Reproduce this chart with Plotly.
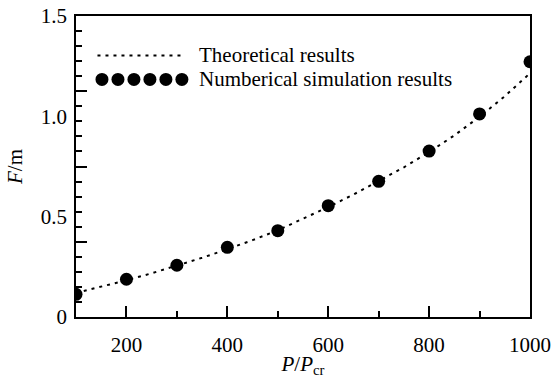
import plotly.graph_objects as go

# ---- data ----
sim_x = [100, 200, 300, 400, 500, 600, 700, 800, 900, 1000]
sim_y = [0.113, 0.188, 0.258, 0.347, 0.430, 0.555, 0.676, 0.827, 1.012, 1.272]

theo_x = [100, 150, 200, 250, 300, 350, 400, 450, 500, 550, 600, 650, 700, 750, 800, 850, 900, 950, 1000]
theo_y = [0.120, 0.150, 0.183, 0.218, 0.255, 0.295, 0.338, 0.383, 0.432, 0.488, 0.548, 0.610, 0.676, 0.746, 0.822, 0.905, 0.998, 1.100, 1.215]

y_labels_vals = [0, 0.5, 1.0, 1.5]
y_labels_text = ["0", "0.5", "1.0", "1.5"]

legend_labels = ["Theoretical results", "Numberical simulation results"]

FONT = "Liberation Serif"
FS = 21

W, H = 552, 378
L, R, T, B = 75.5, 22, 15.5, 61
PW = W - L - R
PH = H - T - B


def px_to_paper(px, py):
    return (px - L) / PW, (H - B - py) / PH


fig = go.Figure()

fig.add_trace(go.Scatter(
    x=theo_x, y=theo_y, mode="lines",
    line=dict(color="black", width=2, dash="3px,5px"),
    showlegend=False, hoverinfo="skip"))

fig.add_trace(go.Scatter(
    x=sim_x, y=sim_y, mode="markers",
    marker=dict(color="black", size=13),
    showlegend=False))

# dummy trace to hold the label axis
fig.add_trace(go.Scatter(x=[None], y=[None], yaxis="y2", showlegend=False,
                         hoverinfo="skip"))

fig.update_layout(
    width=W, height=H,
    margin=dict(l=L, r=R, t=T, b=B, pad=0, autoexpand=False),
    plot_bgcolor="white", paper_bgcolor="white",
    font=dict(family=FONT, size=FS, color="black"),
    xaxis=dict(
        range=[100, 1000], tickmode="linear", tick0=0, dtick=200,
        ticks="inside", ticklen=11, tickwidth=2, tickcolor="black",
        minor=dict(dtick=100, tick0=0, ticks="inside", ticklen=6, tickwidth=2, tickcolor="black"),
        showline=True, linewidth=2, linecolor="black", mirror=True,
        showgrid=False, zeroline=False, automargin=False,
        ticklabelstandoff=8,
        tickfont=dict(family=FONT, size=FS),
        title=dict(text="<i>P</i>/<i>P</i><sub>cr</sub>", font=dict(family=FONT, size=FS), standoff=0),
    ),
    yaxis=dict(
        range=[0, 1.5], tickmode="linear", tick0=0, dtick=0.375,
        ticks="inside", ticklen=11, tickwidth=2, tickcolor="black",
        minor=dict(dtick=0.075, tick0=0, ticks="inside", ticklen=6, tickwidth=2, tickcolor="black"),
        showticklabels=False, automargin=False,
        showline=True, linewidth=2, linecolor="black", mirror=True,
        showgrid=False, zeroline=False,
    ),
    yaxis2=dict(
        overlaying="y", side="left", range=[0, 1.5],
        tickmode="array", tickvals=y_labels_vals, ticktext=y_labels_text,
        ticks="", showline=False, showgrid=False, zeroline=False,
        automargin=False, ticklabelstandoff=8,
        tickfont=dict(family=FONT, size=FS),
        title=dict(text="<i>F</i>/m", font=dict(family=FONT, size=FS), standoff=12),
    ),
)

# manual legend
x0, y0 = px_to_paper(97, 55)
x1, _ = px_to_paper(185, 55)
fig.add_shape(type="line", xref="paper", yref="paper", x0=x0, x1=x1, y0=y0, y1=y0,
              line=dict(color="black", width=2, dash="3px,5px"))
for i in range(6):
    cx, cy = px_to_paper(101.5 + i * 16.0, 79)
    fig.add_shape(type="circle", xref="paper", yref="paper",
                  xsizemode="pixel", ysizemode="pixel",
                  xanchor=cx, yanchor=cy, x0=-6.5, x1=6.5, y0=-6.5, y1=6.5,
                  fillcolor="black", line=dict(color="black", width=0))
for lbl, py in zip(legend_labels, [55, 79]):
    ax, ay = px_to_paper(197, py)
    fig.add_annotation(x=ax, y=ay, xref="paper", yref="paper", text=lbl,
                       showarrow=False, xanchor="left", yanchor="middle",
                       font=dict(family=FONT, size=FS, color="black"))

fig.write_html("out.html")
